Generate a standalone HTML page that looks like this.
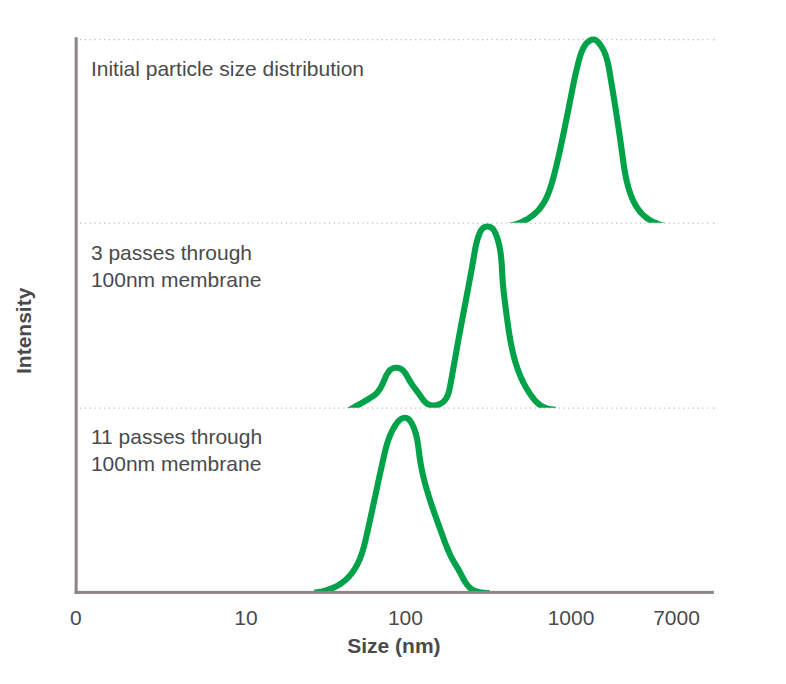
<!DOCTYPE html>
<html><head><meta charset="utf-8"><title>Particle size distribution</title>
<style>
html,body{margin:0;padding:0;background:#fff;}
svg{display:block;}
text{font-family:"Liberation Sans",sans-serif;font-size:21px;fill:#4a4a4c;}
.b{font-weight:bold;}
</style></head><body>
<svg width="786" height="684" viewBox="0 0 786 684">
<rect width="786" height="684" fill="#ffffff"/>
<defs>
<clipPath id="k1"><rect x="77" y="0" width="640" height="222.8"/></clipPath>
<clipPath id="k2"><rect x="77" y="223" width="640" height="184.8"/></clipPath>
<clipPath id="k3"><rect x="77" y="408" width="640" height="184.5"/></clipPath>
</defs>
<g stroke="#c0c0c0" stroke-width="1.3" stroke-dasharray="1.3 3.485" fill="none">
<line x1="80.05" y1="39.7" x2="710" y2="39.7"/><line x1="712.9" y1="39.7" x2="714.5" y2="39.7" stroke-dasharray="none"/>
<line x1="80.05" y1="223.1" x2="710" y2="223.1"/><line x1="712.9" y1="223.1" x2="714.5" y2="223.1" stroke-dasharray="none"/>
<line x1="80.05" y1="408.1" x2="710" y2="408.1"/><line x1="712.9" y1="408.1" x2="714.5" y2="408.1" stroke-dasharray="none"/>
</g>
<g fill="none" stroke="#00a249" stroke-width="6.1" stroke-linejoin="round" stroke-linecap="butt">
<path clip-path="url(#k1)" d="M486.00 227.60 C486.34 227.59 487.33 227.56 488.00 227.55 C488.67 227.53 489.34 227.51 490.01 227.49 C490.68 227.47 491.35 227.45 492.03 227.42 C492.70 227.40 493.37 227.37 494.05 227.34 C494.72 227.31 495.39 227.28 496.07 227.24 C496.74 227.21 497.41 227.16 498.09 227.12 C498.76 227.07 499.43 227.02 500.10 226.96 C500.78 226.91 501.45 226.84 502.12 226.78 C502.79 226.71 503.46 226.63 504.13 226.55 C504.79 226.47 505.46 226.38 506.13 226.28 C506.79 226.18 507.46 226.08 508.12 225.96 C508.78 225.85 509.44 225.73 510.10 225.60 C510.76 225.46 511.41 225.32 512.06 225.17 C512.72 225.02 513.37 224.86 514.01 224.68 C514.66 224.51 515.31 224.33 515.95 224.13 C516.59 223.94 517.23 223.73 517.86 223.51 C518.50 223.29 519.13 223.06 519.76 222.81 C520.38 222.57 521.01 222.31 521.63 222.04 C522.24 221.77 522.86 221.48 523.47 221.19 C524.07 220.89 524.68 220.59 525.27 220.27 C525.87 219.95 526.46 219.62 527.05 219.28 C527.63 218.93 528.21 218.58 528.78 218.21 C529.35 217.85 529.91 217.47 530.46 217.09 C531.01 216.70 531.56 216.30 532.10 215.89 C532.63 215.48 533.16 215.06 533.68 214.63 C534.20 214.20 534.71 213.76 535.20 213.31 C535.70 212.86 536.19 212.40 536.66 211.93 C537.14 211.46 537.61 210.98 538.06 210.49 C538.51 210.00 538.96 209.50 539.39 208.99 C539.81 208.48 540.23 207.97 540.64 207.44 C541.04 206.91 541.43 206.38 541.81 205.83 C542.20 205.29 542.56 204.74 542.92 204.18 C543.28 203.62 543.63 203.06 543.97 202.48 C544.30 201.91 544.63 201.33 544.95 200.74 C545.26 200.15 545.57 199.56 545.87 198.96 C546.17 198.36 546.46 197.76 546.74 197.15 C547.02 196.54 547.29 195.92 547.56 195.30 C547.82 194.68 548.08 194.06 548.33 193.43 C548.58 192.80 548.82 192.17 549.06 191.53 C549.30 190.90 549.53 190.26 549.75 189.62 C549.98 188.98 550.19 188.33 550.41 187.68 C550.62 187.04 550.83 186.39 551.03 185.73 C551.24 185.08 551.43 184.43 551.63 183.78 C551.82 183.12 552.01 182.47 552.20 181.81 C552.39 181.16 552.57 180.50 552.76 179.84 C552.94 179.19 553.12 178.53 553.29 177.88 C553.47 177.22 553.65 176.57 553.82 175.91 C553.99 175.26 554.17 174.61 554.34 173.95 C554.51 173.30 554.67 172.65 554.84 172.00 C555.01 171.35 555.17 170.70 555.34 170.05 C555.50 169.40 555.66 168.75 555.82 168.10 C555.98 167.45 556.14 166.80 556.30 166.15 C556.46 165.50 556.61 164.85 556.77 164.21 C556.92 163.56 557.08 162.91 557.23 162.26 C557.38 161.61 557.54 160.97 557.69 160.32 C557.84 159.67 557.99 159.02 558.14 158.37 C558.29 157.73 558.43 157.08 558.58 156.43 C558.73 155.78 558.87 155.13 559.02 154.48 C559.16 153.83 559.31 153.19 559.45 152.54 C559.60 151.89 559.74 151.24 559.88 150.59 C560.02 149.94 560.17 149.28 560.31 148.63 C560.45 147.98 560.59 147.33 560.73 146.68 C560.87 146.02 561.01 145.37 561.15 144.71 C561.29 144.06 561.43 143.41 561.57 142.75 C561.71 142.09 561.85 141.44 561.99 140.78 C562.13 140.12 562.26 139.46 562.40 138.80 C562.54 138.14 562.68 137.48 562.82 136.82 C562.96 136.16 563.09 135.49 563.23 134.83 C563.37 134.17 563.51 133.50 563.65 132.84 C563.78 132.17 563.92 131.51 564.06 130.84 C564.20 130.18 564.33 129.51 564.47 128.84 C564.61 128.18 564.74 127.51 564.88 126.84 C565.02 126.17 565.15 125.51 565.29 124.84 C565.43 124.17 565.56 123.50 565.70 122.84 C565.83 122.17 565.97 121.50 566.10 120.83 C566.24 120.17 566.37 119.50 566.51 118.83 C566.64 118.16 566.78 117.50 566.91 116.83 C567.05 116.16 567.18 115.50 567.31 114.83 C567.45 114.17 567.58 113.50 567.71 112.84 C567.85 112.17 567.98 111.51 568.11 110.84 C568.24 110.18 568.38 109.52 568.51 108.86 C568.64 108.19 568.77 107.53 568.90 106.87 C569.03 106.21 569.16 105.55 569.29 104.90 C569.43 104.24 569.56 103.58 569.68 102.92 C569.81 102.27 569.94 101.61 570.07 100.96 C570.20 100.31 570.33 99.66 570.46 99.00 C570.59 98.35 570.71 97.70 570.84 97.06 C570.97 96.41 571.10 95.76 571.22 95.12 C571.35 94.47 571.48 93.83 571.60 93.18 C571.73 92.54 571.86 91.90 571.99 91.25 C572.11 90.61 572.24 89.97 572.37 89.33 C572.50 88.68 572.63 88.04 572.76 87.40 C572.88 86.76 573.01 86.12 573.15 85.48 C573.28 84.83 573.41 84.19 573.54 83.55 C573.68 82.91 573.81 82.26 573.94 81.62 C574.08 80.98 574.22 80.33 574.36 79.68 C574.49 79.04 574.63 78.39 574.77 77.74 C574.92 77.09 575.06 76.45 575.20 75.79 C575.35 75.14 575.49 74.49 575.64 73.84 C575.79 73.18 575.94 72.52 576.10 71.87 C576.25 71.21 576.40 70.55 576.56 69.88 C576.72 69.22 576.88 68.56 577.04 67.89 C577.20 67.22 577.37 66.55 577.54 65.88 C577.71 65.20 577.88 64.53 578.05 63.85 C578.23 63.17 578.40 62.49 578.58 61.80 C578.76 61.11 578.94 60.42 579.13 59.73 C579.32 59.04 579.51 58.35 579.71 57.66 C579.91 56.97 580.12 56.28 580.33 55.59 C580.55 54.91 580.77 54.23 581.01 53.56 C581.24 52.89 581.49 52.22 581.75 51.57 C582.01 50.92 582.28 50.28 582.56 49.65 C582.85 49.02 583.15 48.41 583.47 47.81 C583.79 47.22 584.13 46.63 584.49 46.08 C584.84 45.52 585.22 44.98 585.62 44.46 C586.01 43.95 586.43 43.45 586.88 42.99 C587.32 42.52 587.78 42.08 588.28 41.67 C588.77 41.26 589.29 40.87 589.82 40.55 C590.35 40.23 590.90 39.94 591.45 39.75 C592.00 39.57 592.56 39.45 593.10 39.44 C593.64 39.44 594.18 39.55 594.71 39.74 C595.23 39.92 595.74 40.21 596.24 40.55 C596.74 40.89 597.23 41.31 597.70 41.76 C598.17 42.21 598.63 42.73 599.07 43.26 C599.51 43.78 599.93 44.35 600.34 44.92 C600.74 45.48 601.12 46.06 601.49 46.64 C601.86 47.22 602.21 47.80 602.54 48.40 C602.87 48.99 603.19 49.59 603.49 50.20 C603.79 50.80 604.07 51.42 604.34 52.03 C604.61 52.65 604.87 53.28 605.12 53.90 C605.36 54.53 605.59 55.16 605.81 55.80 C606.03 56.44 606.24 57.08 606.44 57.72 C606.63 58.37 606.82 59.02 607.00 59.67 C607.18 60.32 607.35 60.98 607.51 61.64 C607.67 62.30 607.83 62.96 607.98 63.62 C608.12 64.28 608.26 64.95 608.40 65.62 C608.54 66.28 608.67 66.95 608.79 67.62 C608.92 68.29 609.04 68.96 609.16 69.63 C609.28 70.30 609.40 70.98 609.52 71.65 C609.63 72.32 609.75 72.99 609.86 73.67 C609.98 74.34 610.09 75.01 610.20 75.68 C610.32 76.35 610.43 77.02 610.54 77.69 C610.66 78.36 610.77 79.03 610.88 79.70 C610.99 80.37 611.11 81.04 611.22 81.71 C611.33 82.38 611.44 83.04 611.55 83.71 C611.66 84.38 611.77 85.05 611.89 85.71 C612.00 86.38 612.11 87.05 612.22 87.71 C612.33 88.38 612.44 89.05 612.55 89.71 C612.66 90.38 612.76 91.04 612.87 91.71 C612.98 92.38 613.09 93.04 613.20 93.71 C613.31 94.37 613.42 95.04 613.52 95.70 C613.63 96.36 613.74 97.03 613.85 97.69 C613.95 98.36 614.06 99.02 614.17 99.68 C614.27 100.35 614.38 101.01 614.49 101.67 C614.59 102.34 614.70 103.00 614.80 103.66 C614.91 104.33 615.01 104.99 615.12 105.65 C615.22 106.31 615.33 106.98 615.43 107.64 C615.54 108.30 615.64 108.96 615.74 109.62 C615.85 110.29 615.95 110.95 616.05 111.61 C616.16 112.27 616.26 112.93 616.36 113.60 C616.46 114.26 616.56 114.92 616.67 115.58 C616.77 116.24 616.87 116.90 616.97 117.57 C617.07 118.23 617.17 118.89 617.27 119.55 C617.37 120.21 617.47 120.87 617.57 121.53 C617.67 122.20 617.77 122.86 617.87 123.52 C617.97 124.18 618.07 124.84 618.17 125.50 C618.27 126.17 618.37 126.83 618.47 127.49 C618.56 128.15 618.66 128.81 618.76 129.47 C618.86 130.14 618.95 130.80 619.05 131.46 C619.15 132.12 619.24 132.78 619.34 133.45 C619.44 134.11 619.53 134.77 619.63 135.43 C619.72 136.10 619.82 136.76 619.92 137.42 C620.01 138.09 620.11 138.75 620.20 139.41 C620.29 140.08 620.39 140.74 620.48 141.40 C620.58 142.07 620.67 142.73 620.76 143.39 C620.86 144.06 620.95 144.72 621.04 145.39 C621.13 146.05 621.23 146.72 621.32 147.38 C621.41 148.05 621.50 148.71 621.59 149.38 C621.68 150.04 621.78 150.71 621.87 151.38 C621.96 152.04 622.05 152.71 622.14 153.37 C622.23 154.04 622.32 154.71 622.41 155.38 C622.50 156.04 622.59 156.71 622.68 157.38 C622.77 158.05 622.86 158.71 622.96 159.38 C623.05 160.05 623.14 160.72 623.24 161.38 C623.33 162.05 623.43 162.72 623.52 163.38 C623.62 164.05 623.72 164.72 623.82 165.39 C623.92 166.05 624.02 166.72 624.13 167.38 C624.23 168.05 624.34 168.72 624.45 169.38 C624.56 170.05 624.67 170.71 624.79 171.38 C624.90 172.04 625.02 172.70 625.14 173.37 C625.26 174.03 625.39 174.69 625.52 175.35 C625.64 176.02 625.78 176.68 625.91 177.34 C626.05 178.00 626.19 178.66 626.33 179.32 C626.48 179.98 626.62 180.63 626.78 181.29 C626.93 181.95 627.09 182.60 627.25 183.26 C627.41 183.91 627.58 184.57 627.75 185.22 C627.93 185.87 628.10 186.52 628.29 187.17 C628.47 187.82 628.66 188.47 628.86 189.12 C629.05 189.77 629.25 190.41 629.46 191.06 C629.67 191.70 629.89 192.35 630.11 192.99 C630.33 193.63 630.56 194.26 630.79 194.90 C631.03 195.53 631.27 196.17 631.52 196.79 C631.77 197.42 632.03 198.04 632.30 198.66 C632.57 199.28 632.84 199.90 633.13 200.51 C633.41 201.11 633.71 201.72 634.01 202.32 C634.32 202.91 634.63 203.51 634.95 204.09 C635.28 204.68 635.61 205.25 635.95 205.82 C636.30 206.40 636.65 206.96 637.02 207.51 C637.38 208.07 637.76 208.62 638.15 209.15 C638.53 209.69 638.93 210.22 639.34 210.74 C639.76 211.26 640.18 211.77 640.61 212.27 C641.05 212.77 641.50 213.26 641.96 213.74 C642.42 214.21 642.90 214.68 643.39 215.14 C643.87 215.59 644.38 216.04 644.89 216.47 C645.40 216.90 645.93 217.32 646.47 217.73 C647.00 218.13 647.55 218.53 648.11 218.91 C648.67 219.29 649.24 219.66 649.82 220.02 C650.39 220.38 650.98 220.72 651.58 221.05 C652.17 221.38 652.78 221.70 653.39 222.01 C654.00 222.31 654.62 222.60 655.24 222.88 C655.86 223.16 656.49 223.42 657.13 223.67 C657.76 223.92 658.40 224.15 659.05 224.37 C659.69 224.60 660.34 224.80 660.99 224.99 C661.64 225.19 662.30 225.36 662.95 225.52 C663.61 225.69 664.27 225.83 664.93 225.96 C665.59 226.10 666.25 226.21 666.91 226.31 C667.57 226.42 668.23 226.50 668.90 226.58 C669.56 226.66 670.22 226.72 670.89 226.78 C671.55 226.83 672.22 226.88 672.88 226.92 C673.55 226.96 674.21 226.99 674.88 227.02 C675.55 227.04 676.22 227.07 676.88 227.09 C677.55 227.10 678.22 227.12 678.89 227.14 C679.56 227.15 680.23 227.17 680.91 227.18 C681.58 227.20 682.25 227.22 682.92 227.24 C683.60 227.26 684.27 227.29 684.94 227.32 C685.62 227.35 686.29 227.39 686.97 227.44 C687.65 227.48 688.66 227.57 689.00 227.60"/>
<path clip-path="url(#k2)" d="M339.00 416.41 C339.47 416.10 340.88 415.15 341.82 414.54 C342.75 413.94 343.69 413.35 344.63 412.77 C345.57 412.19 346.51 411.63 347.45 411.07 C348.38 410.52 349.32 409.97 350.26 409.43 C351.20 408.89 352.14 408.36 353.08 407.83 C354.02 407.30 354.95 406.78 355.89 406.26 C356.83 405.74 357.77 405.22 358.71 404.69 C359.65 404.17 360.58 403.64 361.52 403.11 C362.46 402.58 363.40 402.05 364.34 401.51 C365.28 400.97 366.22 400.42 367.15 399.86 C368.09 399.30 369.03 398.73 369.97 398.15 C370.91 397.57 371.85 397.00 372.78 396.36 C373.72 395.72 375.13 394.64 375.60 394.30 C375.84 394.03 376.59 393.22 377.04 392.69 C377.50 392.16 377.92 391.63 378.31 391.11 C378.71 390.58 379.09 390.06 379.44 389.53 C379.80 389.00 380.13 388.47 380.45 387.93 C380.77 387.39 381.08 386.85 381.37 386.30 C381.67 385.74 381.95 385.18 382.23 384.60 C382.51 384.01 382.78 383.42 383.06 382.81 C383.33 382.20 383.60 381.56 383.88 380.92 C384.15 380.27 384.43 379.59 384.72 378.92 C385.01 378.25 385.30 377.57 385.61 376.90 C385.92 376.23 386.23 375.55 386.57 374.91 C386.91 374.27 387.26 373.63 387.64 373.04 C388.02 372.44 388.42 371.87 388.84 371.35 C389.27 370.83 389.72 370.34 390.20 369.92 C390.69 369.49 391.20 369.12 391.75 368.82 C392.29 368.51 392.88 368.27 393.47 368.09 C394.07 367.91 394.69 367.79 395.31 367.74 C395.93 367.68 396.57 367.69 397.19 367.75 C397.80 367.82 398.43 367.95 399.03 368.13 C399.62 368.32 400.21 368.56 400.76 368.87 C401.32 369.17 401.84 369.53 402.34 369.94 C402.83 370.35 403.30 370.82 403.75 371.31 C404.20 371.81 404.62 372.35 405.03 372.91 C405.44 373.47 405.83 374.07 406.21 374.67 C406.59 375.28 406.95 375.91 407.31 376.54 C407.68 377.17 408.03 377.81 408.38 378.44 C408.73 379.08 409.08 379.71 409.43 380.33 C409.78 380.94 410.14 381.54 410.50 382.12 C410.85 382.71 411.22 383.27 411.59 383.82 C411.95 384.38 412.32 384.91 412.70 385.45 C413.07 385.98 413.45 386.50 413.83 387.02 C414.21 387.54 414.59 388.04 414.97 388.56 C415.36 389.07 415.75 389.57 416.13 390.09 C416.52 390.60 416.91 391.11 417.30 391.63 C417.69 392.15 418.08 392.67 418.47 393.21 C418.87 393.74 419.26 394.29 419.65 394.84 C420.04 395.40 420.43 395.98 420.83 396.55 C421.23 397.12 421.63 397.71 422.04 398.28 C422.45 398.85 422.86 399.42 423.30 399.96 C423.73 400.50 424.18 401.04 424.64 401.53 C425.11 402.03 425.59 402.51 426.10 402.93 C426.61 403.35 427.14 403.75 427.71 404.08 C428.27 404.41 428.86 404.70 429.48 404.92 C430.10 405.14 430.77 405.29 431.44 405.39 C432.12 405.49 432.83 405.52 433.54 405.51 C434.24 405.50 434.97 405.43 435.67 405.31 C436.38 405.20 437.09 405.03 437.77 404.83 C438.44 404.63 439.11 404.38 439.73 404.10 C440.36 403.82 440.94 403.50 441.49 403.16 C442.05 402.81 442.56 402.43 443.03 402.03 C443.51 401.62 443.96 401.19 444.37 400.73 C444.79 400.27 445.17 399.78 445.53 399.27 C445.88 398.76 446.21 398.23 446.52 397.68 C446.82 397.13 447.10 396.56 447.36 395.97 C447.62 395.38 447.86 394.78 448.08 394.16 C448.30 393.54 448.51 392.91 448.70 392.27 C448.89 391.63 449.06 390.97 449.22 390.31 C449.39 389.65 449.54 388.98 449.68 388.30 C449.83 387.63 449.96 386.95 450.10 386.27 C450.23 385.59 450.35 384.90 450.48 384.22 C450.61 383.54 450.73 382.86 450.85 382.18 C450.98 381.50 451.10 380.82 451.22 380.15 C451.35 379.47 451.47 378.80 451.59 378.12 C451.71 377.45 451.83 376.78 451.95 376.11 C452.07 375.44 452.19 374.77 452.31 374.10 C452.43 373.43 452.55 372.77 452.67 372.10 C452.79 371.44 452.91 370.77 453.03 370.11 C453.15 369.45 453.26 368.78 453.38 368.12 C453.50 367.46 453.61 366.80 453.73 366.14 C453.85 365.48 453.97 364.83 454.08 364.17 C454.20 363.51 454.31 362.85 454.43 362.20 C454.55 361.54 454.66 360.89 454.78 360.23 C454.89 359.58 455.01 358.92 455.13 358.27 C455.24 357.61 455.36 356.96 455.47 356.31 C455.59 355.65 455.70 355.00 455.82 354.35 C455.94 353.70 456.05 353.05 456.17 352.39 C456.28 351.74 456.40 351.09 456.52 350.44 C456.63 349.79 456.75 349.14 456.86 348.48 C456.98 347.83 457.10 347.18 457.21 346.53 C457.33 345.88 457.45 345.23 457.57 344.57 C457.68 343.92 457.80 343.27 457.92 342.62 C458.04 341.96 458.16 341.31 458.27 340.66 C458.39 340.00 458.51 339.35 458.63 338.70 C458.75 338.04 458.87 337.39 458.99 336.73 C459.11 336.08 459.23 335.42 459.35 334.77 C459.47 334.11 459.60 333.45 459.72 332.80 C459.84 332.14 459.96 331.49 460.08 330.83 C460.21 330.17 460.33 329.51 460.45 328.86 C460.57 328.20 460.70 327.54 460.82 326.88 C460.94 326.22 461.07 325.56 461.19 324.90 C461.31 324.25 461.44 323.59 461.56 322.93 C461.69 322.27 461.81 321.61 461.94 320.95 C462.06 320.29 462.19 319.63 462.31 318.97 C462.44 318.31 462.56 317.65 462.69 316.99 C462.81 316.32 462.94 315.66 463.06 315.00 C463.19 314.34 463.31 313.68 463.44 313.02 C463.56 312.36 463.69 311.70 463.82 311.03 C463.94 310.37 464.07 309.71 464.19 309.05 C464.32 308.39 464.45 307.73 464.57 307.06 C464.70 306.40 464.82 305.74 464.95 305.08 C465.08 304.42 465.20 303.75 465.33 303.09 C465.45 302.43 465.58 301.77 465.71 301.11 C465.83 300.44 465.96 299.78 466.08 299.12 C466.21 298.46 466.33 297.80 466.46 297.13 C466.59 296.47 466.71 295.81 466.84 295.15 C466.96 294.49 467.09 293.82 467.21 293.16 C467.34 292.50 467.46 291.84 467.59 291.18 C467.71 290.52 467.84 289.86 467.96 289.20 C468.09 288.53 468.21 287.87 468.33 287.21 C468.46 286.55 468.58 285.89 468.71 285.23 C468.83 284.57 468.95 283.91 469.08 283.25 C469.20 282.59 469.32 281.93 469.45 281.27 C469.57 280.61 469.69 279.95 469.81 279.29 C469.93 278.63 470.06 277.97 470.18 277.32 C470.30 276.66 470.42 276.00 470.54 275.34 C470.66 274.68 470.78 274.03 470.90 273.37 C471.02 272.71 471.14 272.05 471.26 271.40 C471.38 270.74 471.50 270.08 471.62 269.43 C471.74 268.77 471.85 268.12 471.97 267.46 C472.09 266.81 472.21 266.15 472.32 265.50 C472.44 264.84 472.56 264.19 472.67 263.54 C472.79 262.88 472.90 262.23 473.02 261.58 C473.13 260.92 473.25 260.27 473.36 259.62 C473.48 258.97 473.59 258.32 473.70 257.67 C473.81 257.02 473.93 256.37 474.04 255.72 C474.15 255.07 474.26 254.42 474.37 253.77 C474.48 253.12 474.60 252.47 474.71 251.82 C474.83 251.17 474.94 250.52 475.06 249.87 C475.18 249.22 475.30 248.57 475.43 247.92 C475.56 247.27 475.70 246.61 475.84 245.95 C475.98 245.30 476.12 244.64 476.28 243.98 C476.43 243.32 476.59 242.66 476.76 241.99 C476.94 241.32 477.12 240.65 477.31 239.98 C477.50 239.31 477.70 238.63 477.91 237.95 C478.13 237.27 478.35 236.58 478.60 235.90 C478.84 235.21 479.09 234.52 479.36 233.85 C479.64 233.18 479.93 232.51 480.25 231.89 C480.57 231.26 480.91 230.65 481.29 230.10 C481.66 229.55 482.06 229.03 482.50 228.58 C482.94 228.13 483.41 227.73 483.92 227.41 C484.43 227.10 484.99 226.85 485.58 226.69 C486.16 226.53 486.81 226.45 487.42 226.45 C488.04 226.45 488.69 226.54 489.28 226.70 C489.86 226.85 490.43 227.10 490.94 227.40 C491.46 227.70 491.93 228.08 492.37 228.50 C492.82 228.92 493.22 229.41 493.60 229.93 C493.98 230.45 494.32 231.02 494.65 231.62 C494.97 232.21 495.27 232.84 495.55 233.48 C495.83 234.12 496.09 234.79 496.34 235.46 C496.59 236.12 496.82 236.80 497.05 237.47 C497.27 238.14 497.48 238.81 497.69 239.48 C497.89 240.15 498.08 240.82 498.26 241.49 C498.45 242.16 498.62 242.83 498.79 243.50 C498.95 244.17 499.10 244.84 499.25 245.51 C499.40 246.18 499.54 246.85 499.67 247.51 C499.80 248.18 499.92 248.85 500.04 249.52 C500.15 250.18 500.26 250.85 500.36 251.52 C500.47 252.19 500.56 252.85 500.65 253.52 C500.74 254.18 500.83 254.85 500.91 255.52 C500.99 256.18 501.06 256.85 501.13 257.51 C501.20 258.18 501.26 258.85 501.32 259.51 C501.38 260.18 501.44 260.84 501.49 261.51 C501.55 262.17 501.60 262.84 501.64 263.50 C501.69 264.17 501.73 264.83 501.78 265.49 C501.82 266.16 501.86 266.82 501.90 267.49 C501.94 268.15 501.98 268.82 502.01 269.48 C502.05 270.14 502.08 270.81 502.12 271.47 C502.16 272.13 502.19 272.80 502.23 273.46 C502.26 274.13 502.30 274.79 502.34 275.45 C502.38 276.12 502.41 276.78 502.45 277.44 C502.49 278.11 502.54 278.77 502.58 279.43 C502.63 280.10 502.67 280.76 502.72 281.42 C502.77 282.09 502.82 282.75 502.88 283.41 C502.93 284.08 502.99 284.74 503.05 285.40 C503.10 286.07 503.17 286.73 503.23 287.39 C503.29 288.06 503.36 288.72 503.42 289.38 C503.49 290.05 503.56 290.71 503.63 291.37 C503.70 292.04 503.77 292.70 503.85 293.37 C503.92 294.03 503.99 294.69 504.07 295.36 C504.15 296.02 504.23 296.69 504.31 297.35 C504.38 298.01 504.46 298.68 504.55 299.34 C504.63 300.01 504.71 300.67 504.79 301.34 C504.88 302.00 504.96 302.67 505.05 303.33 C505.13 304.00 505.22 304.66 505.30 305.33 C505.39 306.00 505.48 306.66 505.56 307.33 C505.65 307.99 505.74 308.66 505.83 309.33 C505.91 309.99 506.00 310.66 506.09 311.33 C506.18 311.99 506.27 312.66 506.36 313.33 C506.44 314.00 506.53 314.66 506.62 315.33 C506.71 316.00 506.80 316.67 506.89 317.34 C506.98 318.00 507.06 318.67 507.16 319.34 C507.25 320.01 507.34 320.68 507.43 321.35 C507.52 322.01 507.61 322.68 507.70 323.35 C507.80 324.02 507.89 324.69 507.98 325.36 C508.08 326.02 508.17 326.69 508.27 327.36 C508.37 328.03 508.47 328.69 508.57 329.36 C508.67 330.03 508.77 330.69 508.87 331.36 C508.97 332.03 509.07 332.69 509.18 333.36 C509.29 334.02 509.39 334.69 509.50 335.35 C509.61 336.02 509.72 336.68 509.83 337.34 C509.95 338.01 510.06 338.67 510.18 339.33 C510.30 339.99 510.42 340.65 510.54 341.31 C510.66 341.98 510.78 342.63 510.91 343.29 C511.04 343.95 511.17 344.61 511.30 345.27 C511.43 345.93 511.56 346.58 511.70 347.24 C511.84 347.89 511.98 348.55 512.12 349.20 C512.26 349.86 512.41 350.51 512.56 351.16 C512.71 351.81 512.86 352.46 513.02 353.11 C513.17 353.76 513.33 354.41 513.49 355.06 C513.66 355.70 513.82 356.35 513.99 356.99 C514.16 357.64 514.33 358.28 514.51 358.92 C514.69 359.56 514.87 360.21 515.05 360.84 C515.24 361.48 515.43 362.12 515.62 362.76 C515.81 363.39 516.01 364.03 516.21 364.66 C516.41 365.30 516.62 365.93 516.83 366.56 C517.04 367.19 517.25 367.82 517.47 368.44 C517.69 369.07 517.91 369.69 518.14 370.32 C518.37 370.94 518.61 371.56 518.84 372.18 C519.08 372.80 519.33 373.42 519.57 374.03 C519.82 374.65 520.08 375.26 520.33 375.88 C520.59 376.49 520.86 377.10 521.13 377.71 C521.40 378.31 521.67 378.92 521.95 379.52 C522.23 380.13 522.52 380.73 522.81 381.33 C523.10 381.93 523.40 382.53 523.71 383.12 C524.01 383.72 524.32 384.31 524.63 384.90 C524.95 385.49 525.27 386.08 525.60 386.67 C525.93 387.25 526.26 387.84 526.60 388.42 C526.94 389.00 527.29 389.58 527.65 390.15 C528.00 390.73 528.36 391.30 528.73 391.87 C529.09 392.44 529.47 393.01 529.85 393.58 C530.23 394.14 530.62 394.71 531.01 395.27 C531.41 395.83 531.81 396.39 532.22 396.94 C532.63 397.49 533.05 398.04 533.48 398.57 C533.90 399.11 534.34 399.64 534.79 400.15 C535.23 400.66 535.69 401.17 536.16 401.66 C536.63 402.14 537.11 402.61 537.60 403.07 C538.09 403.52 538.60 403.96 539.11 404.37 C539.63 404.78 540.16 405.17 540.71 405.53 C541.25 405.90 541.81 406.24 542.39 406.55 C542.96 406.86 543.55 407.15 544.16 407.40 C544.76 407.66 545.38 407.88 546.01 408.09 C546.64 408.30 547.29 408.47 547.93 408.64 C548.58 408.80 549.24 408.94 549.91 409.06 C550.57 409.19 551.24 409.29 551.91 409.39 C552.58 409.48 553.26 409.57 553.92 409.64 C554.59 409.71 555.57 409.80 555.90 409.83"/>
<path clip-path="url(#k3)" d="M314.20 592.78 C314.50 592.74 315.38 592.62 316.02 592.52 C316.66 592.41 317.37 592.30 318.04 592.18 C318.71 592.06 319.38 591.93 320.04 591.80 C320.71 591.66 321.37 591.52 322.03 591.37 C322.69 591.22 323.35 591.06 324.01 590.89 C324.66 590.72 325.31 590.54 325.96 590.36 C326.61 590.17 327.26 589.98 327.90 589.77 C328.54 589.57 329.17 589.35 329.80 589.13 C330.43 588.90 331.06 588.66 331.68 588.42 C332.30 588.17 332.91 587.91 333.52 587.65 C334.13 587.38 334.74 587.10 335.33 586.81 C335.93 586.51 336.52 586.21 337.10 585.90 C337.68 585.58 338.26 585.25 338.83 584.91 C339.40 584.57 339.96 584.22 340.51 583.85 C341.06 583.49 341.61 583.11 342.14 582.71 C342.68 582.32 343.20 581.91 343.72 581.49 C344.24 581.08 344.75 580.64 345.25 580.20 C345.75 579.76 346.24 579.30 346.72 578.84 C347.21 578.37 347.68 577.90 348.14 577.41 C348.61 576.92 349.06 576.43 349.51 575.92 C349.95 575.42 350.39 574.90 350.81 574.38 C351.24 573.86 351.65 573.33 352.06 572.79 C352.47 572.25 352.86 571.70 353.25 571.15 C353.64 570.60 354.01 570.04 354.38 569.47 C354.75 568.91 355.10 568.34 355.45 567.76 C355.80 567.18 356.13 566.60 356.46 566.02 C356.78 565.43 357.10 564.84 357.40 564.25 C357.71 563.65 358.00 563.05 358.29 562.45 C358.57 561.85 358.85 561.25 359.12 560.64 C359.39 560.03 359.64 559.42 359.90 558.80 C360.15 558.18 360.39 557.57 360.63 556.94 C360.86 556.32 361.09 555.70 361.31 555.07 C361.53 554.44 361.75 553.81 361.96 553.18 C362.17 552.55 362.37 551.91 362.56 551.27 C362.76 550.64 362.95 550.00 363.14 549.36 C363.33 548.71 363.51 548.07 363.69 547.43 C363.86 546.78 364.04 546.13 364.21 545.49 C364.38 544.84 364.54 544.19 364.70 543.54 C364.87 542.89 365.03 542.23 365.18 541.58 C365.34 540.93 365.50 540.27 365.65 539.62 C365.80 538.96 365.95 538.31 366.10 537.65 C366.25 536.99 366.40 536.34 366.55 535.68 C366.70 535.02 366.85 534.37 367.00 533.71 C367.14 533.05 367.29 532.40 367.44 531.74 C367.59 531.08 367.73 530.42 367.88 529.77 C368.03 529.11 368.17 528.45 368.32 527.79 C368.46 527.14 368.61 526.48 368.76 525.82 C368.90 525.16 369.05 524.50 369.19 523.85 C369.34 523.19 369.48 522.53 369.63 521.87 C369.77 521.21 369.92 520.56 370.06 519.90 C370.20 519.24 370.35 518.58 370.49 517.92 C370.63 517.26 370.78 516.61 370.92 515.95 C371.06 515.29 371.21 514.63 371.35 513.97 C371.49 513.32 371.64 512.66 371.78 512.00 C371.92 511.34 372.06 510.68 372.21 510.02 C372.35 509.37 372.49 508.71 372.63 508.05 C372.77 507.39 372.92 506.73 373.06 506.08 C373.20 505.42 373.34 504.76 373.48 504.10 C373.63 503.45 373.77 502.79 373.91 502.13 C374.05 501.47 374.19 500.82 374.33 500.16 C374.47 499.50 374.61 498.84 374.76 498.19 C374.90 497.53 375.04 496.87 375.18 496.22 C375.32 495.56 375.46 494.90 375.60 494.25 C375.74 493.59 375.88 492.93 376.02 492.28 C376.17 491.62 376.31 490.97 376.45 490.31 C376.59 489.65 376.73 489.00 376.87 488.34 C377.01 487.69 377.15 487.03 377.29 486.38 C377.44 485.72 377.58 485.07 377.72 484.41 C377.86 483.76 378.00 483.10 378.14 482.45 C378.28 481.80 378.42 481.14 378.57 480.49 C378.71 479.83 378.85 479.18 378.99 478.53 C379.13 477.87 379.27 477.22 379.41 476.57 C379.56 475.92 379.70 475.26 379.84 474.61 C379.98 473.96 380.13 473.31 380.27 472.66 C380.41 472.01 380.55 471.35 380.69 470.70 C380.84 470.05 380.98 469.40 381.12 468.75 C381.27 468.10 381.41 467.45 381.55 466.80 C381.70 466.15 381.84 465.50 381.98 464.86 C382.13 464.21 382.27 463.56 382.42 462.91 C382.56 462.26 382.70 461.62 382.85 460.97 C382.99 460.32 383.14 459.67 383.28 459.03 C383.43 458.38 383.57 457.74 383.72 457.09 C383.86 456.44 384.01 455.80 384.16 455.15 C384.31 454.51 384.46 453.87 384.61 453.22 C384.76 452.58 384.91 451.94 385.07 451.29 C385.23 450.65 385.39 450.01 385.55 449.37 C385.72 448.73 385.88 448.09 386.06 447.45 C386.23 446.81 386.40 446.17 386.59 445.53 C386.77 444.89 386.96 444.25 387.15 443.61 C387.35 442.98 387.55 442.34 387.75 441.71 C387.96 441.07 388.18 440.44 388.40 439.80 C388.62 439.17 388.85 438.54 389.09 437.90 C389.33 437.27 389.58 436.64 389.84 436.01 C390.09 435.38 390.36 434.75 390.64 434.12 C390.92 433.50 391.20 432.87 391.50 432.24 C391.80 431.62 392.11 430.99 392.43 430.37 C392.75 429.75 393.09 429.12 393.43 428.50 C393.78 427.88 394.14 427.26 394.51 426.64 C394.89 426.02 395.27 425.40 395.67 424.79 C396.07 424.19 396.49 423.59 396.92 423.02 C397.35 422.45 397.80 421.89 398.26 421.38 C398.73 420.87 399.21 420.38 399.71 419.95 C400.21 419.52 400.72 419.13 401.26 418.81 C401.80 418.49 402.37 418.22 402.93 418.03 C403.50 417.84 404.11 417.71 404.67 417.69 C405.24 417.67 405.79 417.74 406.31 417.89 C406.83 418.04 407.33 418.29 407.80 418.60 C408.27 418.91 408.72 419.30 409.15 419.73 C409.58 420.16 409.98 420.66 410.37 421.19 C410.76 421.72 411.12 422.31 411.47 422.91 C411.82 423.51 412.15 424.15 412.46 424.79 C412.77 425.43 413.07 426.10 413.35 426.75 C413.63 427.41 413.89 428.07 414.14 428.73 C414.39 429.39 414.63 430.05 414.85 430.71 C415.07 431.37 415.28 432.03 415.48 432.69 C415.68 433.35 415.86 434.01 416.04 434.67 C416.21 435.33 416.38 436.00 416.53 436.66 C416.69 437.32 416.83 437.99 416.97 438.65 C417.11 439.31 417.24 439.98 417.36 440.64 C417.48 441.30 417.59 441.97 417.70 442.63 C417.81 443.29 417.92 443.96 418.02 444.62 C418.12 445.29 418.21 445.95 418.30 446.61 C418.39 447.28 418.48 447.94 418.57 448.60 C418.65 449.27 418.74 449.93 418.82 450.59 C418.90 451.26 418.98 451.92 419.07 452.58 C419.15 453.24 419.23 453.90 419.32 454.57 C419.40 455.23 419.49 455.89 419.58 456.55 C419.67 457.21 419.76 457.87 419.85 458.53 C419.95 459.19 420.05 459.84 420.15 460.50 C420.25 461.16 420.36 461.82 420.47 462.48 C420.58 463.13 420.69 463.79 420.81 464.44 C420.92 465.10 421.04 465.76 421.17 466.41 C421.29 467.06 421.42 467.72 421.55 468.37 C421.68 469.03 421.81 469.68 421.94 470.33 C422.08 470.98 422.22 471.64 422.36 472.29 C422.50 472.94 422.65 473.59 422.80 474.24 C422.94 474.89 423.09 475.54 423.25 476.19 C423.40 476.84 423.56 477.49 423.72 478.14 C423.87 478.79 424.04 479.43 424.20 480.08 C424.36 480.73 424.53 481.38 424.70 482.02 C424.87 482.67 425.04 483.32 425.21 483.96 C425.39 484.61 425.56 485.25 425.74 485.90 C425.92 486.54 426.10 487.19 426.28 487.83 C426.47 488.48 426.65 489.12 426.84 489.76 C427.03 490.41 427.22 491.05 427.41 491.69 C427.60 492.34 427.79 492.98 427.99 493.62 C428.18 494.26 428.38 494.90 428.58 495.55 C428.78 496.19 428.98 496.83 429.18 497.47 C429.38 498.11 429.59 498.75 429.79 499.39 C430.00 500.03 430.20 500.67 430.41 501.31 C430.62 501.95 430.83 502.59 431.04 503.22 C431.25 503.86 431.47 504.50 431.68 505.14 C431.89 505.78 432.11 506.41 432.32 507.05 C432.54 507.69 432.76 508.33 432.98 508.96 C433.20 509.60 433.42 510.24 433.64 510.87 C433.86 511.51 434.08 512.15 434.30 512.78 C434.52 513.42 434.75 514.05 434.97 514.69 C435.20 515.32 435.42 515.96 435.65 516.59 C435.87 517.23 436.10 517.86 436.32 518.50 C436.55 519.13 436.78 519.77 437.01 520.40 C437.23 521.03 437.46 521.67 437.69 522.30 C437.92 522.94 438.15 523.57 438.38 524.20 C438.61 524.84 438.84 525.47 439.07 526.10 C439.30 526.74 439.53 527.37 439.76 528.00 C439.99 528.63 440.22 529.27 440.45 529.90 C440.68 530.53 440.91 531.16 441.14 531.80 C441.37 532.43 441.60 533.06 441.83 533.69 C442.06 534.33 442.29 534.96 442.52 535.59 C442.75 536.22 442.97 536.85 443.20 537.48 C443.43 538.12 443.66 538.75 443.89 539.38 C444.13 540.01 444.36 540.64 444.59 541.26 C444.82 541.89 445.06 542.52 445.29 543.14 C445.53 543.77 445.77 544.39 446.01 545.02 C446.25 545.64 446.50 546.26 446.74 546.88 C446.99 547.50 447.24 548.12 447.49 548.73 C447.74 549.35 448.00 549.96 448.26 550.57 C448.52 551.18 448.79 551.79 449.06 552.40 C449.33 553.00 449.60 553.61 449.88 554.21 C450.16 554.81 450.44 555.40 450.73 556.00 C451.02 556.59 451.32 557.18 451.62 557.77 C451.92 558.36 452.23 558.94 452.54 559.52 C452.86 560.10 453.18 560.67 453.50 561.25 C453.83 561.82 454.16 562.39 454.50 562.96 C454.83 563.53 455.17 564.10 455.51 564.67 C455.85 565.24 456.20 565.81 456.54 566.38 C456.89 566.95 457.23 567.53 457.57 568.11 C457.92 568.69 458.26 569.27 458.60 569.86 C458.94 570.45 459.27 571.05 459.60 571.65 C459.94 572.25 460.26 572.87 460.59 573.48 C460.91 574.10 461.23 574.72 461.55 575.34 C461.87 575.97 462.19 576.59 462.51 577.21 C462.84 577.83 463.16 578.46 463.49 579.07 C463.83 579.68 464.16 580.29 464.51 580.88 C464.86 581.47 465.21 582.06 465.58 582.63 C465.94 583.20 466.32 583.75 466.71 584.29 C467.11 584.82 467.51 585.34 467.94 585.84 C468.36 586.33 468.80 586.80 469.26 587.25 C469.73 587.69 470.21 588.11 470.71 588.50 C471.22 588.89 471.75 589.25 472.30 589.57 C472.85 589.90 473.43 590.19 474.02 590.46 C474.61 590.73 475.22 590.97 475.84 591.19 C476.47 591.41 477.11 591.60 477.76 591.77 C478.41 591.94 479.08 592.09 479.75 592.22 C480.42 592.35 481.10 592.46 481.79 592.56 C482.47 592.65 483.16 592.73 483.85 592.80 C484.54 592.87 485.23 592.92 485.92 592.96 C486.61 593.01 487.36 593.04 487.98 593.06 C488.59 593.09 489.33 593.10 489.60 593.11"/>
</g>
<rect x="74.6" y="37.2" width="3.1" height="556.7" fill="#8c8686"/>
<rect x="74.6" y="590.9" width="639.3" height="3" fill="#8c8686"/>
<text x="90.9" y="75.8">Initial particle size distribution</text>
<text x="90.9" y="259.6">3 passes through</text>
<text x="90.9" y="286.5">100nm membrane</text>
<text x="90.9" y="444.2">11 passes through</text>
<text x="90.9" y="471.1">100nm membrane</text>
<text x="75.9" y="625.4" text-anchor="middle">0</text>
<text x="246" y="625.4" text-anchor="middle">10</text>
<text x="405.4" y="625.4" text-anchor="middle">100</text>
<text x="571" y="625.4" text-anchor="middle">1000</text>
<text x="676.5" y="625.4" text-anchor="middle">7000</text>
<text class="b" x="393.9" y="652.9" text-anchor="middle">Size (nm)</text>
<text class="b" transform="translate(31.1 330.8) rotate(-90)" text-anchor="middle">Intensity</text>
</svg>
</body></html>
